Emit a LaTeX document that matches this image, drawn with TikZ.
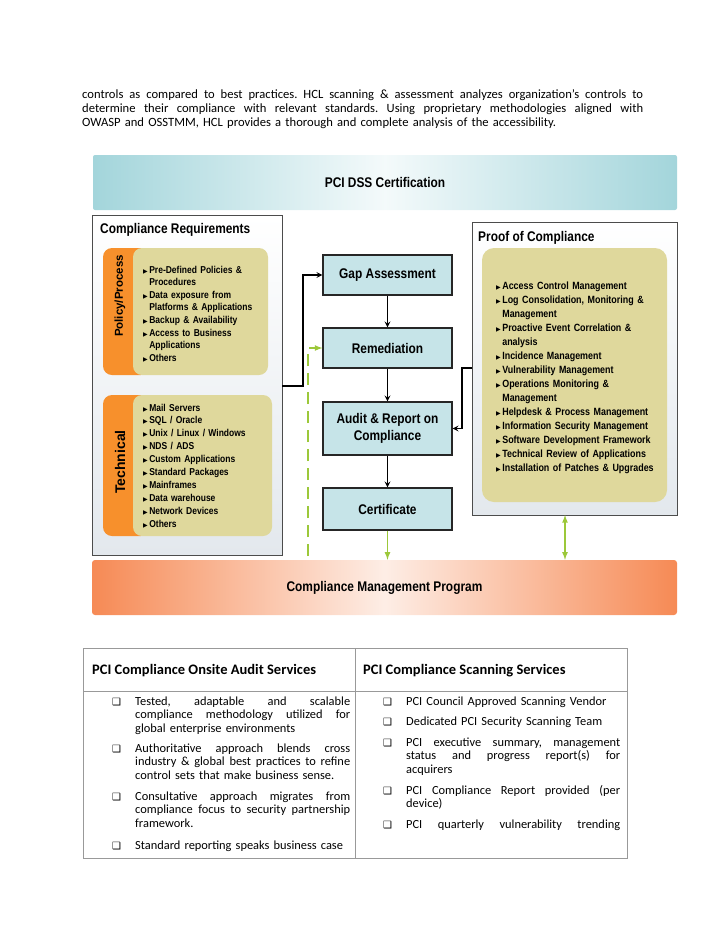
\documentclass[tikz,border=0pt]{standalone}
\usepackage{fontspec}
\setmainfont{Carlito}
\newfontfamily\diagfont[FakeStretch=0.85]{Liberation Sans}
\newfontfamily\widefont{Liberation Sans}
\newfontfamily\symfont{DejaVu Sans}
\usepackage{xcolor}
\usepackage{tikz}
\usetikzlibrary{arrows, positioning}

\definecolor{bannerteal}{HTML}{A3D5DB}
\definecolor{barorange}{HTML}{F68A55}
\definecolor{tabor}{HTML}{F7902C}
\definecolor{khaki}{HTML}{DFD89C}
\definecolor{stagefill}{HTML}{C6E4E8}
\definecolor{linkgreen}{HTML}{9CC83A}
\definecolor{rulegray}{HTML}{999999}
\definecolor{panelgray}{HTML}{E3E8ED}

\newcommand{\tri}{{\symfont\fontsize{6}{6}\selectfont ▶}\hspace{1.5pt}}
\newcommand{\cont}{\phantom{\tri}}
\newcommand{\fullline}[2]{\makebox[#1][s]{\spaceskip=0.22em plus 1fil minus 0.04em\relax #2}}

\tikzstyle{panel} = [rectangle, draw=black!70, line width=1pt, top color=white, bottom color=panelgray]
\tikzstyle{stage} = [rectangle, draw=black!85, line width=1.1pt, fill=stagefill, minimum width=129pt, text centered, align=center]
\tikzstyle{khakibox} = [rectangle, rounded corners=9pt, fill=khaki]
\tikzstyle{tab} = [rectangle, rounded corners=9pt, fill=tabor]
\tikzstyle{arrow} = [line width=1.6pt,->,>=stealth]
\tikzstyle{greenarrow} = [line width=1.6pt, draw=linkgreen, ->, >=latex]

\begin{document}
\frenchspacing
\begin{tikzpicture}[
  x=1pt, y=-1pt,
  every node/.style={inner sep=0pt},
  title/.style={anchor=base west, font=\diagfont\bfseries\fontsize{14}{15}\selectfont},
  list/.style={anchor=base west, text width=150pt, align=left},
  cell/.style={anchor=base west, align=left, font=\fontsize{12.4}{13.7}\selectfont},
  box/.style={anchor=base west, font=\symfont\fontsize{10}{10}\selectfont}
]
\useasboundingbox (0,0) rectangle (728,943);

% opening paragraph
\node (intro) [cell, text width=561pt, font=\fontsize{12.6}{14}\selectfont] at (82,98)
  {\fullline{561pt}{controls as compared to best practices. HCL scanning \& assessment analyzes organization's controls to}\\
   \fullline{561pt}{determine their compliance with relevant standards. Using proprietary methodologies aligned with}\\
   OWASP and OSSTMM, HCL provides a thorough and complete analysis of the accessibility.};

% top and bottom bands
\node (dss) [rectangle, rounded corners=2pt, minimum width=584pt, minimum height=55pt,
  left color=bannerteal, right color=bannerteal, middle color=white!88!bannerteal,
  font=\diagfont\bfseries\fontsize{14}{15}\selectfont] at (385,182.5) {PCI DSS Certification};
\node (cmp) [rectangle, rounded corners=3pt, minimum width=585pt, minimum height=55pt,
  left color=barorange, right color=barorange, middle color=white!85!barorange,
  font=\diagfont\bfseries\fontsize{14}{15}\selectfont] at (384.5,587.5) {Compliance Management Program};

% compliance requirements
\node (creq) [panel, minimum width=190pt, minimum height=340pt] at (187,385) {};
\node (creqTitle) [title] at (100,233) {Compliance Requirements};

\node (polTab) [tab, minimum width=47pt, minimum height=127pt] at (126.5,311.5) {};
\node (polBox) [khakibox, minimum width=135pt, minimum height=127pt] at (200.5,311.5) {};
\node (polLabel) [rotate=90, font=\widefont\bfseries\fontsize{11.5}{12}\selectfont] at (120,296) {Policy/Process};
\node (polList) [list, font=\diagfont\bfseries\fontsize{10}{12.6}\selectfont] at (143,273)
  {\tri Pre-Defined Policies \&\\ \cont Procedures\\ \tri Data exposure from\\ \cont Platforms \& Applications\\
   \tri Backup \& Availability\\ \tri Access to Business\\ \cont Applications\\ \tri Others};

\node (techTab) [tab, minimum width=47pt, minimum height=141pt] at (126.5,465.5) {};
\node (techBox) [khakibox, minimum width=139pt, minimum height=141pt] at (202.5,465.5) {};
\node (techLabel) [rotate=90, font=\widefont\bfseries\fontsize{14}{15}\selectfont] at (120,462) {Technical};
\node (techList) [list, font=\diagfont\bfseries\fontsize{10}{12.9}\selectfont] at (143,411)
  {\tri Mail Servers\\ \tri SQL / Oracle\\ \tri Unix / Linux / Windows\\ \tri NDS / ADS\\ \tri Custom Applications\\
   \tri Standard Packages\\ \tri Mainframes\\ \tri Data warehouse\\ \tri Network Devices\\ \tri Others};

% proof of compliance
\node (proof) [panel, minimum width=205pt, minimum height=293pt] at (574.5,368.5) {};
\node (proofTitle) [title] at (478,241) {Proof of Compliance};
\node (proofBox) [khakibox, rounded corners=12pt, minimum width=185pt, minimum height=254pt] at (574.5,375) {};
\node (proofList) [list, text width=175pt, font=\diagfont\bfseries\fontsize{10.5}{14}\selectfont] at (496,289)
  {\tri Access Control Management\\ \tri Log Consolidation, Monitoring \&\\ \cont Management\\
   \tri Proactive Event Correlation \&\\ \cont analysis\\ \tri Incidence Management\\ \tri Vulnerability Management\\
   \tri Operations Monitoring \&\\ \cont Management\\ \tri Helpdesk \& Process Management\\
   \tri Information Security Management\\ \tri Software Development Framework\\
   \tri Technical Review of Applications\\ \tri Installation of Patches \& Upgrades};

% stages
\node (gap) [stage, minimum height=40pt, font=\diagfont\bfseries\fontsize{14}{15}\selectfont] at (387.5,275) {Gap Assessment};
\node (remed) [stage, minimum height=40pt, font=\diagfont\bfseries\fontsize{14}{15}\selectfont] at (387.5,348) {Remediation};
\node (audit) [stage, minimum height=53pt, font=\diagfont\bfseries\fontsize{14}{17}\selectfont] at (387.5,428.5) {Audit \& Report on\\Compliance};
\node (cert) [stage, minimum height=42pt, font=\diagfont\bfseries\fontsize{14}{15}\selectfont] at (387.5,509) {Certificate};

\draw [arrow] (gap) -- (remed);
\draw [arrow] (remed) -- (audit);
\draw [arrow] (audit) -- (cert);

\coordinate (reqOut) at (282,386);
\draw [arrow] (reqOut) -- ++(21,0) |- (gap.west);
\coordinate (proofOut) at (472,368);
\draw [arrow] (proofOut) -- ++(-10,0) |- (audit.east);
\coordinate (dashFoot) at (308,556);
\draw [greenarrow, dash pattern=on 12pt off 7pt] (dashFoot) |- (remed.west);
\draw [greenarrow] (cert.south) -- (cert.south |- cmp.north);
\coordinate (proofFoot) at (565,515);
\draw [greenarrow, <->] (proofFoot) -- (proofFoot |- cmp.north);

% services table
\draw [rulegray, line width=0.8pt] (83,648) rectangle (627,858);
\draw [rulegray, line width=0.8pt] (83,691) -- (627,691);
\draw [rulegray, line width=0.8pt] (355,648) -- (355,858);

\node (hdAudit) [anchor=base west, font=\bfseries\fontsize{14.5}{16}\selectfont] at (92,674) {PCI Compliance Onsite Audit Services};
\node (hdScan) [anchor=base west, font=\bfseries\fontsize{14.5}{16}\selectfont] at (363,674) {PCI Compliance Scanning Services};

\node (boxA1) [box] at (112,705) {❑};
\node (itemA1) [cell, text width=215pt] at (135,705)
  {\fullline{215pt}{Tested, adaptable and scalable}\\ \fullline{215pt}{compliance methodology utilized for}\\ global enterprise environments};
\node (boxA2) [box] at (112,752) {❑};
\node (itemA2) [cell, text width=215pt] at (135,752)
  {\fullline{215pt}{Authoritative approach blends cross}\\ \fullline{215pt}{industry \& global best practices to refine}\\ control sets that make business sense.};
\node (boxA3) [box] at (112,800) {❑};
\node (itemA3) [cell, text width=215pt] at (135,800)
  {\fullline{215pt}{Consultative approach migrates from}\\ \fullline{215pt}{compliance focus to security partnership}\\ framework.};
\node (boxA4) [box] at (112,849) {❑};
\node (itemA4) [cell, text width=215pt] at (135,849) {Standard reporting speaks business case};

\node (boxB1) [box] at (383,705) {❑};
\node (itemB1) [cell, text width=214pt] at (406,705) {PCI Council Approved Scanning Vendor};
\node (boxB2) [box] at (383,725) {❑};
\node (itemB2) [cell, text width=214pt] at (406,725) {Dedicated PCI Security Scanning Team};
\node (boxB3) [box] at (383,746) {❑};
\node (itemB3) [cell, text width=214pt] at (406,746)
  {\fullline{214pt}{PCI executive summary, management}\\ \fullline{214pt}{status and progress report(s) for}\\ acquirers};
\node (boxB4) [box] at (383,794) {❑};
\node (itemB4) [cell, text width=214pt] at (406,794) {\fullline{214pt}{PCI Compliance Report provided (per}\\ device)};
\node (boxB5) [box] at (383,828) {❑};
\node (itemB5) [cell, text width=214pt] at (406,828) {\fullline{214pt}{PCI quarterly vulnerability trending}};

\end{tikzpicture}
\end{document}
